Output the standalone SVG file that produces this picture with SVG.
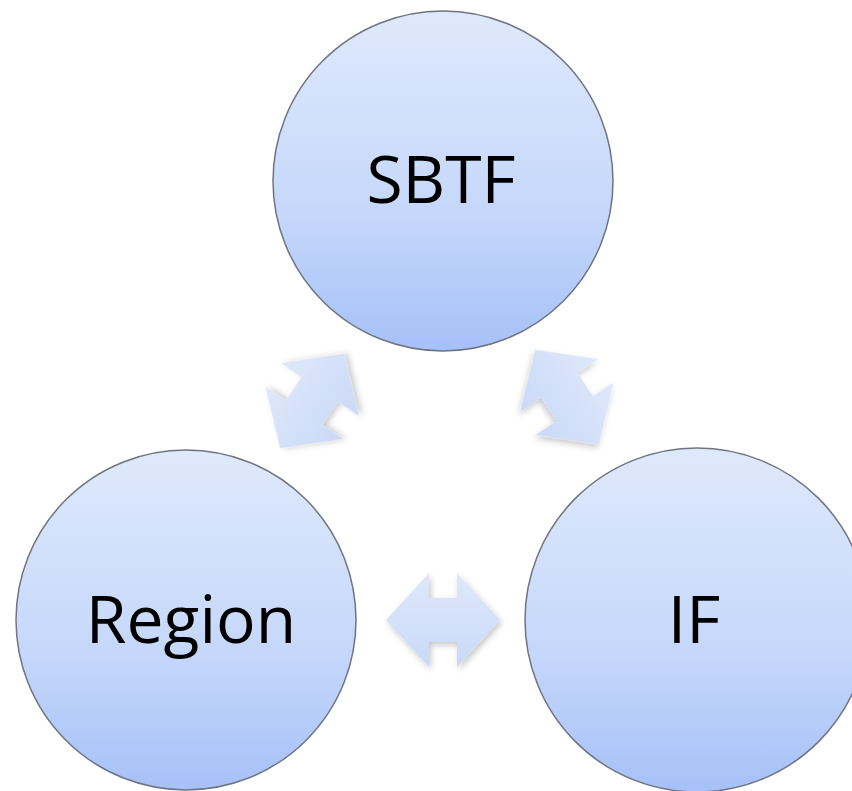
<svg xmlns="http://www.w3.org/2000/svg" width="852" height="791" viewBox="0 0 852 791">
<defs>
<linearGradient id="cg" x1="0" y1="0" x2="0" y2="1">
<stop offset="0" stop-color="#dfe9fc"/>
<stop offset="0.6" stop-color="#c5d7fa"/>
<stop offset="1" stop-color="#a6c1f8"/>
</linearGradient>
<linearGradient id="ag" x1="0" y1="0" x2="0" y2="1">
<stop offset="0" stop-color="#dfe8fb"/>
<stop offset="1" stop-color="#cad9f7"/>
</linearGradient>
<filter id="sh" x="-30%" y="-30%" width="160%" height="160%">
<feDropShadow dx="2" dy="3" stdDeviation="3" flood-color="#000" flood-opacity="0.22"/>
</filter>
<path id="dbl" d="M-57,0 L-14,-47 L-14,-22 L14,-22 L14,-47 L57,0 L14,47 L14,22 L-14,22 L-14,47 Z"/>
<style>
.node circle{fill:url(#cg);stroke:#6f7580;stroke-width:1.5}
.node text{font-family:"Open Sans","Liberation Sans",sans-serif;font-size:66px;fill:#000;text-anchor:middle}
.conn use{fill:url(#ag);filter:url(#sh)}
</style>
</defs>
<rect width="852" height="791" fill="#fff"/>
<g id="connectors" class="conn">
<use href="#dbl" transform="translate(312,401) rotate(-56)"/>
<use href="#dbl" transform="translate(567,397) rotate(56)"/>
<use href="#dbl" transform="translate(443,620)"/>
</g>
<g id="node-sbtf" class="node">
<circle cx="443" cy="181" r="170"/>
<text x="441" y="203">SBTF</text>
</g>
<g id="node-region" class="node">
<circle cx="186" cy="620" r="170"/>
<text x="191" y="643">Region</text>
</g>
<g id="node-if" class="node">
<circle cx="697" cy="620" r="172"/>
<text x="694" y="643">IF</text>
</g>
</svg>
